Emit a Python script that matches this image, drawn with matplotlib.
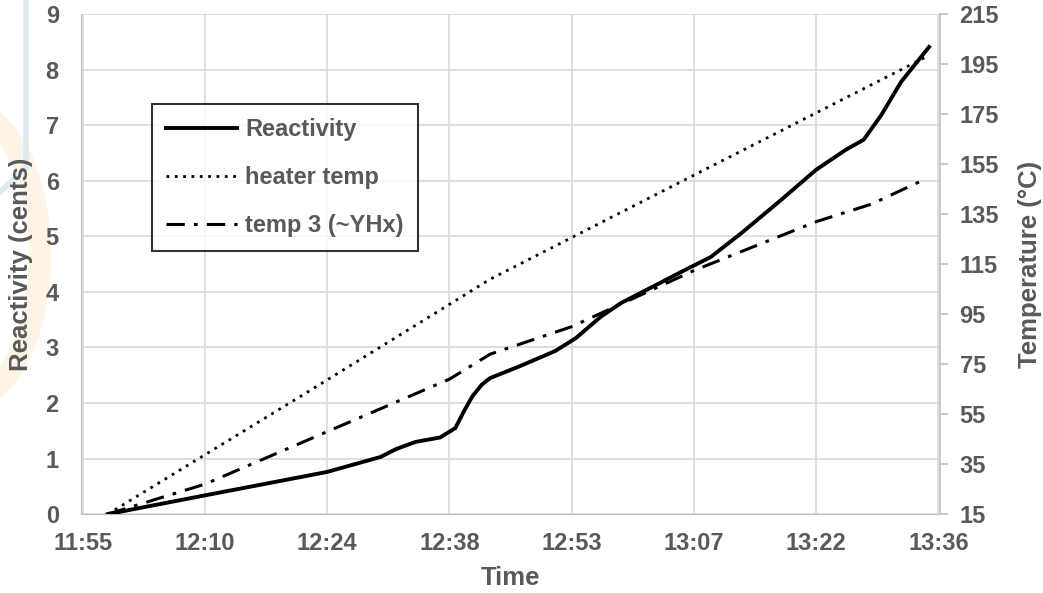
import numpy as np
import matplotlib
matplotlib.use('Agg')
import matplotlib.pyplot as plt
from matplotlib.patches import Arc

plt.rcParams['font.family'] = ['Liberation Sans', 'DejaVu Sans']
plt.rcParams['font.weight'] = 'bold'

# minutes after 11:55
react_t = [2.95, 13.8, 28.8, 35.1, 36.9, 39.2, 42.1, 43.9, 44.9, 45.9, 47.0, 48.0, 51.6,
           55.7, 58.1, 61.0, 63.4, 65.7, 70.5, 74.0, 77.6, 82.3, 86.4, 89.9, 92.0,
           94.1, 96.4, 99.7]
react_v = [0.0, 0.32, 0.76, 1.03, 1.17, 1.3, 1.38, 1.55, 1.85, 2.12, 2.33, 2.45, 2.67,
           2.94, 3.17, 3.55, 3.8, 3.98, 4.36, 4.63, 5.06, 5.66, 6.2, 6.56, 6.74,
           7.19, 7.78, 8.41]

heater_t = [2.95, 25.6, 48.0, 72.8, 99.4]
heater_v = [15, 62, 109, 152, 198]

temp3_t = [2.95, 14.4, 28.8, 43.2, 48.0, 57.6, 72.1, 86.4, 92.9, 98.6]
temp3_v = [15, 27, 48, 69, 79, 90, 112.6, 132, 139, 148]

tick_pos = [0, 14.4, 28.8, 43.2, 57.6, 72.0, 86.4, 100.8]
tick_labels = ['11:55', '12:10', '12:24', '12:38', '12:53', '13:07', '13:22', '13:36']

gray = '#595959'
grid = '#d9d9d9'
fs = 17
fs_lab = 18.5

fig = plt.figure(figsize=(10.43, 5.93), dpi=100)
ax = fig.add_axes([0.0777, 0.133, 0.9013 - 0.0777, 0.976 - 0.133])
ax2 = ax.twinx()

# faint watermark at the left edge
wm = fig.add_axes([0, 0, 1, 1], zorder=-5)
wm.set_xlim(0, 1043)
wm.set_ylim(593, 0)
wm.axis('off')
wm.add_patch(Arc((-35, 255), 150, 290, theta1=-85, theta2=85, lw=16, color='#fdf4e6'))
wm.add_patch(Arc((-20, -20), 100, 120, theta1=-90, theta2=0, lw=16, color='#fdf4e6'))
wm.plot([26, 26], [0, 165], color='#dfe9f0', lw=4)
wm.plot([0, 26], [192, 168], color='#dfe9f0', lw=4)

l1, = ax.plot(react_t, react_v, color='black', lw=2.8, label='Reactivity', zorder=5)
l2, = ax2.plot(heater_t, heater_v, color='black', lw=2, ls=(0, (1, 2)), label='heater temp')
l3, = ax2.plot(temp3_t, temp3_v, color='black', lw=2.2, ls=(0, (6, 3, 1.2, 3)), label='temp 3 (~YHx)')

ax.set_xlim(-0.2, 101)
ax.set_ylim(0, 9)
ax.set_yticks(range(0, 10))
ax.set_xticks(tick_pos)
ax.set_xticklabels(tick_labels)
ax.grid(True, color=grid, lw=1.2)
ax.set_axisbelow(True)
ax.tick_params(axis='both', length=0, labelsize=fs, labelcolor=gray)
ax.tick_params(axis='x', pad=13)
ax.tick_params(axis='y', pad=16)

ax2.set_ylim(15, 215)
ax2.set_yticks(range(15, 216, 20))
ax2.tick_params(axis='y', length=6, width=1.2, color='#bfbfbf', labelsize=fs, labelcolor=gray, pad=8)

for a in (ax, ax2):
    for s in a.spines.values():
        s.set_visible(False)
ax.spines['left'].set_visible(True)
ax.spines['left'].set_color('#bfbfbf')
ax.spines['bottom'].set_visible(True)
ax.spines['bottom'].set_color('#bfbfbf')
ax2.spines['right'].set_visible(True)
ax2.spines['right'].set_color('#bfbfbf')
ax2.spines['right'].set_linewidth(1.2)

ax.set_xlabel('Time', fontsize=fs_lab, color=gray, fontweight='bold', labelpad=8)
ax.set_ylabel('Reactivity (cents)', fontsize=fs_lab, color=gray, fontweight='bold', labelpad=9)
ax2.set_ylabel('Temperature (°C)', fontsize=fs_lab, color=gray, fontweight='bold', labelpad=14)

leg = ax.legend(handles=[l1, l2, l3], loc='upper left', bbox_to_anchor=(0.0827, 0.82),
                borderaxespad=0, fontsize=fs, frameon=True, fancybox=False, edgecolor='black',
                handlelength=3.0, handletextpad=0.35, labelspacing=1.05, borderpad=0.6)
leg.get_frame().set_linewidth(1.5)
for t in leg.get_texts():
    t.set_color(gray)
    t.set_fontweight('bold')

fig.savefig('out.png', dpi=100)
